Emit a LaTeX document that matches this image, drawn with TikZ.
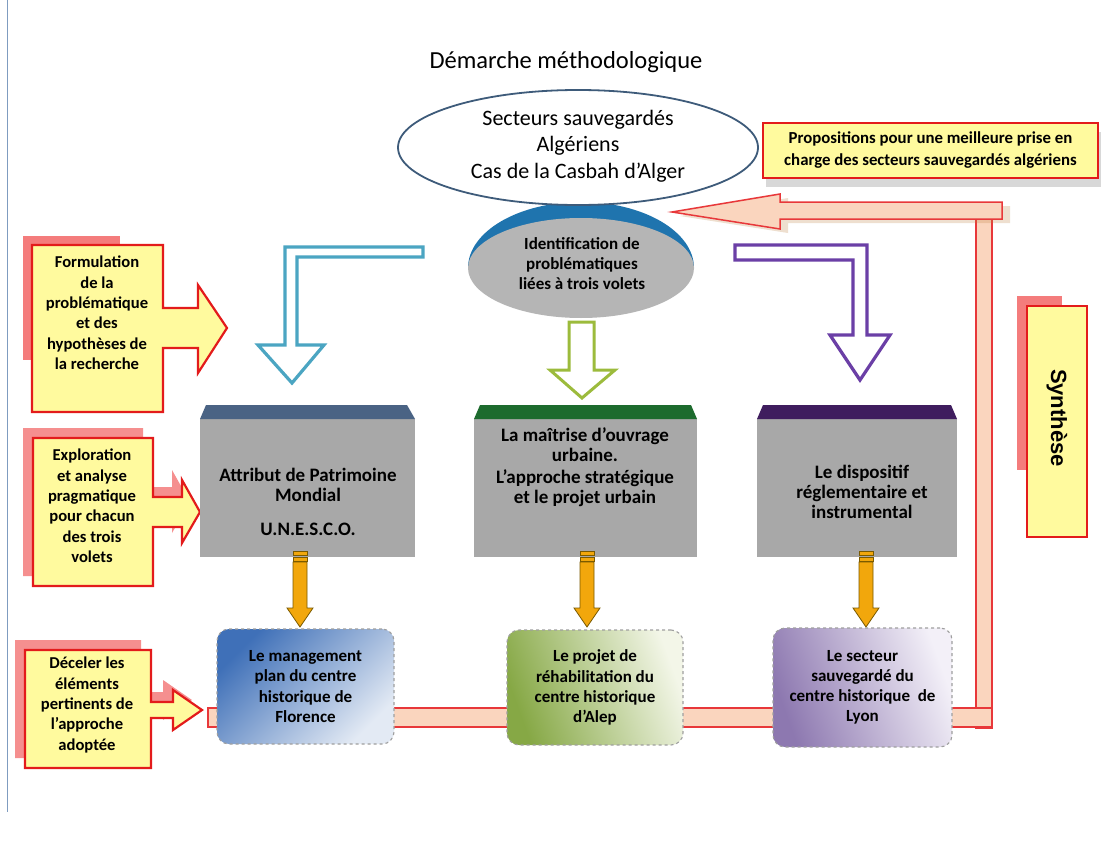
\documentclass[tikz,border=0pt]{standalone}
\usepackage{fontspec}
\setmainfont{Carlito}
\newfontfamily\arialfont{Liberation Sans}
\usetikzlibrary{shapes.geometric,shadows}

\definecolor{calyellow}{HTML}{FFFA9E}
\definecolor{calred}{HTML}{E31B1B}
\definecolor{calpink}{HTML}{F47C7C}
\definecolor{capslate}{HTML}{4A6384}
\definecolor{capgreen}{HTML}{1D6B2E}
\definecolor{cappurple}{HTML}{3F1D5E}
\definecolor{boxgrey}{HTML}{A8A8A8}
\definecolor{ellborder}{HTML}{3E5B7A}
\definecolor{ellblue}{HTML}{1F74AE}
\definecolor{ellgrey}{HTML}{B5B5B5}
\definecolor{peach}{HTML}{FAD5BE}
\definecolor{barred}{HTML}{E8383A}
\definecolor{cyanarrow}{HTML}{4BA5C2}
\definecolor{greenarrow}{HTML}{9CBB3C}
\definecolor{purplearrow}{HTML}{6B3FA6}
\definecolor{orangefill}{HTML}{F2A70C}
\definecolor{orangeline}{HTML}{7A5A00}
\definecolor{sideline}{HTML}{7F9CC0}
\definecolor{flodark}{HTML}{3F70B8}
\definecolor{flolight}{HTML}{E3EAF4}
\definecolor{alepdark}{HTML}{86A845}
\definecolor{aleplight}{HTML}{F3F6E8}
\definecolor{lyondark}{HTML}{8D78B0}
\definecolor{lyonlight}{HTML}{F3F0F8}

\tikzset{
  callout/.style={fill=calyellow, draw=calred, line width=2.2, line join=miter},
  calloutshadow/.style={fill=calpink, opacity=0.85},
  calltext/.style={align=center, font=\fontsize{16.6}{20.4}\selectfont\bfseries, inner sep=0pt},
  greybox/.style={fill=boxgrey, minimum height=138, inner sep=0pt},
  boxtext/.style={align=center, font=\fontsize{19}{19.8}\selectfont\bfseries, inner sep=0pt},
  lowbox/.style={rounded corners=12, draw=gray!75, dashed, line width=1.1,
    minimum height=115, align=center, inner sep=0pt,
    font=\fontsize{17}{20.2}\selectfont\bfseries},
  hollow/.style={fill=white, line width=3.2, line join=miter},
  orangearr/.style={fill=orangefill, draw=orangeline, line width=0.8, line join=miter},
  peachbar/.style={fill=peach, draw=barred, line width=1.5},
  notebox/.style={fill=calyellow, draw=calred, line width=2.5, inner sep=0pt},
}

\begin{document}
\begin{tikzpicture}[x=1pt,y=-1pt]
\useasboundingbox (0,0) rectangle (1112,843);
\fill[white] (0,0) rectangle (1112,843);

% thin frame line on the left
\draw[sideline, line width=1] (7,0) -- (7,812);

% title
\node[font=\fontsize{24.5}{26}\selectfont, inner sep=0] (title) at (566,62) {Démarche méthodologique};

% synthesis return path: bottom bar and right upright
\path[peachbar] (976,214) rectangle (992,728);
\path[peachbar] (208,708) rectangle (992,727);

% left callouts
\fill[calpink] (23,236) rectangle (120,360);
\path[callout] (32,245) -- (163,245) -- (163,308) -- (198,308) -- (198,285) -- (227,328)
  -- (198,373) -- (198,348) -- (163,348) -- (163,412) -- (32,412) -- cycle;
\node[calltext] (formul) at (97,313) {Formulation\\de la\\problématique\\et des\\hypothèses de\\la recherche};

\path[calloutshadow, shift={(-10,-10)}] (33,438) -- (153,438) -- (153,497) -- (182,497) -- (182,480)
  -- (200,512) -- (182,543) -- (182,527) -- (153,527) -- (153,586) -- (33,586) -- cycle;
\path[callout] (33,438) -- (153,438) -- (153,497) -- (182,497) -- (182,480) -- (200,512)
  -- (182,543) -- (182,527) -- (153,527) -- (153,586) -- (33,586) -- cycle;
\node[calltext] (explor) at (92,506) {Exploration\\et analyse\\pragmatique\\pour chacun\\des trois\\volets};

\path[calloutshadow, shift={(-10,-10)}] (25,650) -- (151,650) -- (151,702) -- (173,702) -- (173,690)
  -- (202,710) -- (173,730) -- (173,718) -- (151,718) -- (151,768) -- (25,768) -- cycle;
\path[callout] (25,650) -- (151,650) -- (151,702) -- (173,702) -- (173,690) -- (202,710)
  -- (173,730) -- (173,718) -- (151,718) -- (151,768) -- (25,768) -- cycle;
\node[calltext] (deceler) at (87,705) {Déceler les\\éléments\\pertinents de\\l’approche\\adoptée};

% hollow arrows leaving the central ellipse
\path[hollow, draw=cyanarrow] (423,247) -- (285,247) -- (285,345) -- (258,345) -- (292,383)
  -- (324,345) -- (297,345) -- (297,257) -- (423,257) -- cycle;
\path[hollow, draw=purplearrow] (735,245) -- (867,245) -- (867,335) -- (890,335) -- (860,380)
  -- (830,335) -- (853,335) -- (853,260) -- (735,260) -- cycle;
\path[hollow, draw=greenarrow, line width=3] (569,322) -- (594,322) -- (594,370) -- (615,370)
  -- (582,398) -- (550,370) -- (569,370) -- cycle;

% identification disc with its blue rim
\begin{scope}
  \clip (460,190) rectangle (705,268);
  \node[ellipse, fill=ellblue, minimum width=226, minimum height=132, inner sep=0] (identcap) at (581,268) {};
\end{scope}
\node[ellipse, fill=ellgrey, minimum width=226, minimum height=100, inner sep=0] (ident) at (581,268) {};
\node[calltext, font=\fontsize{17}{20}\selectfont\bfseries] (identtext) at (582,264)
  {Identification de\\problématiques\\liées à trois volets};

% main ellipse
\node[ellipse, draw=ellborder, line width=1.8, fill=white, minimum width=360, minimum height=115, inner sep=0] (sect) at (578,147.5) {};
\node[align=center, inner sep=0, font=\fontsize{22}{26.5}\selectfont] (secttext) at (578,146)
  {Secteurs sauvegardés\\Algériens\\Cas de la Casbah d’Alger};

% the three grey boxes with their coloured caps
\node[greybox, minimum width=215] (attr) at (307.5,488) {};
\fill[capslate] (200,419) -- (206,405) -- (407,405) -- (415,419) -- cycle;
\node[boxtext] (attrtext) at (308,502) {Attribut de Patrimoine\\Mondial\\[15pt]U.N.E.S.C.O.};

\node[greybox, minimum width=223] (maitr) at (585.5,488) {};
\fill[capgreen] (474,419) -- (480,405) -- (691,405) -- (697,419) -- cycle;
\node[boxtext] (maitrtext) at (585,467) {La maîtrise d’ouvrage\\urbaine.\\[2pt]L’approche stratégique\\et le projet urbain};

\node[greybox, minimum width=200] (dispo) at (857,488) {};
\fill[cappurple] (757,419) -- (763,405) -- (951,405) -- (957,419) -- cycle;
\node[boxtext] (dispotext) at (862,492) {Le dispositif\\réglementaire et\\instrumental};

% orange arrows down to the case studies
\foreach \c in {300,587,866}{
  \path[orangearr] (\c-7,562) -- (\c+7,562) -- (\c+7,608) -- (\c+13,608) -- (\c,627)
    -- (\c-13,608) -- (\c-7,608) -- cycle;
  \path[orangearr] (\c-7,551) rectangle (\c+7,555);
  \path[orangearr] (\c-7,557) rectangle (\c+7,561);
}

% case studies
\node[lowbox, minimum width=177, left color=flodark, right color=flolight, shading angle=45] (flo) at (305.5,686.5)
  {Le management\\plan du centre\\historique de\\Florence};
\node[lowbox, minimum width=176, left color=alepdark, right color=aleplight, shading angle=110] (alep) at (595,687.5)
  {Le projet de\\réhabilitation du\\centre historique\\d’Alep};
\node[lowbox, minimum width=179, minimum height=119, left color=lyondark, right color=lyonlight, shading angle=110] (lyon) at (862.5,687.5)
  {Le secteur\\sauvegardé du\\centre historique\ \ de\\Lyon};

% proposals box and the arrow feeding back into it
\node[notebox, minimum width=335, minimum height=55, align=center,
  font=\fontsize{16.8}{22}\selectfont\bfseries,
  drop shadow={shadow xshift=3pt, shadow yshift=-9pt, opacity=0.3, fill=gray}] (prop) at (930.5,150.5)
  {Propositions pour une meilleure prise en\\charge des secteurs sauvegardés algériens};
\path[peachbar, drop shadow={shadow xshift=8pt, shadow yshift=-4pt, opacity=0.25, fill=brown}]
  (1002,202) -- (780,202) -- (780,194) -- (672,212) -- (780,229) -- (780,219) -- (1002,219) -- cycle;

% synthesis label
\fill[calpink] (1017,296) rectangle (1062,470);
\node[notebox, minimum width=60, minimum height=231] (synth) at (1057,421.5) {};
\node[rotate=-90, inner sep=0, font=\arialfont\fontsize{22}{24}\selectfont\bfseries] (synthtext) at (1057,418) {Synthèse};
\end{tikzpicture}
\end{document}
